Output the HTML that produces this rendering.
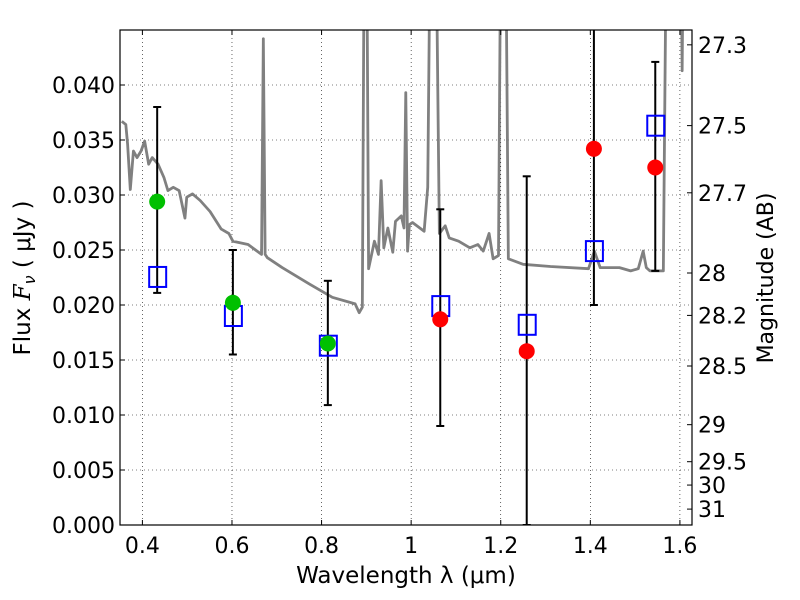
<!DOCTYPE html>
<html><head><meta charset="utf-8"><style>
html,body{margin:0;padding:0;background:#fff;}
svg{display:block;font-family:"DejaVu Sans","Liberation Sans",sans-serif;}
</style></head><body>
<svg id="chart" width="800" height="600">
<g id="grid"></g>
<g id="clip-g" clip-path="url(#pc)"></g>
<defs><clipPath id="pc"><rect x="120" y="30" width="572" height="495"/></clipPath></defs>
<g id="axes"></g>
</svg>
<script>
const specLam=[0.354,0.363,0.367,0.373,0.380,0.388,0.397,0.405,0.414,0.422,0.435,0.448,0.457,0.469,0.482,0.495,0.499,0.512,0.529,0.551,0.576,0.593,0.602,0.636,0.666,0.670,0.674,0.679,0.712,0.773,0.824,0.875,0.884,0.891,0.896,0.900,0.905,0.918,0.927,0.933,0.939,0.948,0.959,0.965,0.978,0.984,0.988,0.992,0.996,1.003,1.029,1.037,1.044,1.054,1.063,1.076,1.085,1.106,1.131,1.149,1.161,1.174,1.183,1.195,1.201,1.210,1.217,1.250,1.311,1.396,1.409,1.422,1.465,1.490,1.507,1.518,1.525,1.533,1.563,1.571,1.601,1.605,1.609,1.627];
const specFlux=[0.0367,0.0364,0.0346,0.0305,0.0340,0.0334,0.0340,0.0349,0.0328,0.0334,0.0328,0.0316,0.0304,0.0307,0.0304,0.0279,0.0298,0.0301,0.0295,0.0285,0.0269,0.0265,0.0258,0.0255,0.0246,0.0442,0.0246,0.0243,0.0234,0.0219,0.0207,0.0201,0.0193,0.0198,0.06,0.06,0.0233,0.0258,0.0246,0.0313,0.0252,0.0270,0.0248,0.0276,0.0281,0.0270,0.0393,0.0249,0.0273,0.0275,0.0267,0.0307,0.06,0.06,0.0265,0.0272,0.0261,0.0258,0.0252,0.0255,0.0249,0.0265,0.0242,0.0245,0.06,0.06,0.0242,0.0237,0.0235,0.0233,0.0249,0.0234,0.0234,0.0231,0.0233,0.0249,0.0234,0.0231,0.0231,0.06,0.06,0.0413,0.06,0.06];
const greenLam=[0.433,0.602,0.814];
const greenFlux=[0.0294,0.0202,0.0165];
const redLam=[1.065,1.258,1.408,1.545];
const redFlux=[0.0187,0.0158,0.0342,0.0325];
const sqLam=[0.433,0.602,0.814,1.065,1.258,1.408,1.545];
const sqFlux=[0.02255,0.0190,0.0163,0.0199,0.0182,0.0249,0.0363];
const errLam=[0.433,0.602,0.814,1.065,1.258,1.408,1.545];
const errLo=[0.0211,0.0155,0.0109,0.0090,0.0,0.0200,0.0231];
const errHi=[0.0380,0.0250,0.0222,0.0287,0.0317,0.047,0.0421];
const xTicks=[0.4,0.6,0.8,1.0,1.2,1.4,1.6];
const xTickLabels=["0.4","0.6","0.8","1","1.2","1.4","1.6"];
const yTicks=[0,0.005,0.01,0.015,0.02,0.025,0.03,0.035,0.04];
const yTickLabels=["0.000","0.005","0.010","0.015","0.020","0.025","0.030","0.035","0.040"];
const magTicks=[27.3,27.5,27.7,28,28.2,28.5,29,29.5,30,31];

const L=120,R=692,T=30,B=525,X0=0.35,X1=1.627,Y0=0,Y1=0.045;
const sx=v=>L+(v-X0)/(X1-X0)*(R-L);
const sy=v=>B-(v-Y0)/(Y1-Y0)*(B-T);
const NS="http://www.w3.org/2000/svg";
function mk(tag,attrs,parent,txt){const e=document.createElementNS(NS,tag);for(const k in attrs)e.setAttribute(k,attrs[k]);if(txt!==undefined)e.textContent=txt;parent.appendChild(e);return e;}
const grid=document.getElementById('grid'),pg=document.getElementById('clip-g'),ax=document.getElementById('axes');
xTicks.forEach((t,i)=>{
  const g=mk('line',{x1:sx(t),x2:sx(t),y1:T,y2:B,stroke:'#000','stroke-width':0.6,'stroke-dasharray':'1,3'},grid);
  
  
  mk('line',{x1:sx(t),x2:sx(t),y1:B,y2:B-5,stroke:'#000'},ax);
  mk('line',{x1:sx(t),x2:sx(t),y1:T,y2:T+5,stroke:'#000'},ax);
  const tx=mk('text',{x:sx(t),y:B+28,'font-size':22,'text-anchor':'middle'},ax,xTickLabels[i]);
  
  
});
yTicks.forEach((t,i)=>{
  const g=mk('line',{x1:L,x2:R,y1:sy(t),y2:sy(t),stroke:'#000','stroke-width':0.6,'stroke-dasharray':'1,3'},grid);
  
  
  mk('line',{x1:L,x2:L+5,y1:sy(t),y2:sy(t),stroke:'#000'},ax);
  const tx=mk('text',{x:L-5,y:sy(t)+8,'font-size':22,'text-anchor':'end'},ax,yTickLabels[i]);
  
  
});
magTicks.forEach(m=>{
  const f=Math.pow(10,(23.9-m)/2.5);const y=sy(f);
  mk('line',{x1:R,x2:R-5,y1:y,y2:y,stroke:'#000'},ax);
  const tx=mk('text',{x:R+6,y:y+8,'font-size':22},ax,String(m));
  
  
});
const sp=mk('polyline',{points:specLam.map((l,i)=>sx(l)+','+sy(specFlux[i])).join(' '),fill:'none',stroke:'#808080','stroke-width':2.8,'stroke-linejoin':'round'},pg);


errLam.forEach((l,i)=>{
  const x=sx(l);
  const e=mk('g',{stroke:'#000','stroke-width':2},pg);
  
  
  mk('line',{x1:x,x2:x,y1:sy(errLo[i]),y2:sy(errHi[i])},e);
  mk('line',{x1:x-4,x2:x+4,y1:sy(errLo[i]),y2:sy(errLo[i])},e);
  mk('line',{x1:x-4,x2:x+4,y1:sy(errHi[i]),y2:sy(errHi[i])},e);
});
sqLam.forEach((l,i)=>{
  const r=mk('rect',{x:sx(l)-8,y:sy(sqFlux[i])-10,width:17,height:20,fill:'none',stroke:'#0000ff','stroke-width':2},pg);
  
  
});
greenLam.forEach((l,i)=>{
  const c=mk('circle',{cx:sx(l),cy:sy(greenFlux[i]),r:8,fill:'#00c000'},pg);
  
  
});
redLam.forEach((l,i)=>{
  const c=mk('circle',{cx:sx(l),cy:sy(redFlux[i]),r:8,fill:'#ff0000'},pg);
  
  
});
const fr=mk('rect',{x:L,y:T,width:R-L,height:B-T,fill:'none',stroke:'#000','stroke-width':1.2},ax);


const xl=mk('text',{x:406,y:583,'font-size':23,'text-anchor':'middle'},ax,'Wavelength  λ (μm)');


const yl=mk('text',{x:0,y:0,'font-size':23,'text-anchor':'middle',transform:'translate(30,278) rotate(-90)'},ax);


mk('tspan',{},yl,'Flux  ');
mk('tspan',{'font-style':'italic','font-family':'"DejaVu Serif","Liberation Serif",serif'},yl,'F');
mk('tspan',{'font-style':'italic','font-size':16,dy:5},yl,'ν');
mk('tspan',{dy:-5},yl,'  ( μJy )');
const ml=mk('text',{x:0,y:0,'font-size':22,'text-anchor':'middle',transform:'translate(773,278) rotate(-90)'},ax,'Magnitude (AB)');


</script>
</body></html>
